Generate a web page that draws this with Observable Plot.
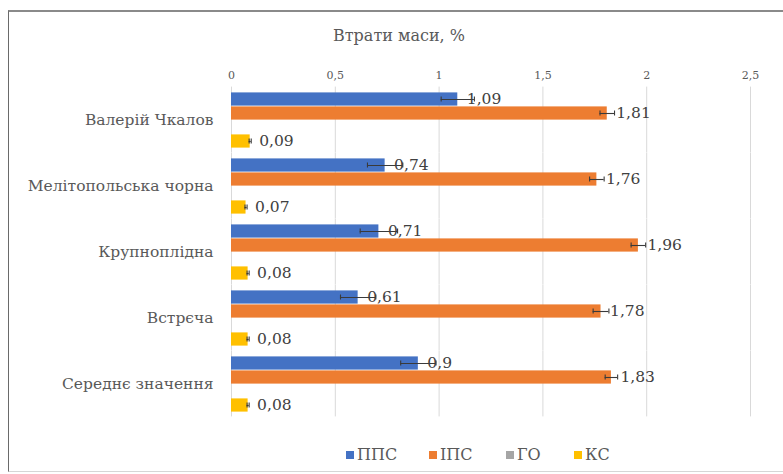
<!DOCTYPE html>
<html>
<head>
<meta charset="utf-8">
<script src="https://cdn.jsdelivr.net/npm/d3@7"></script>
<script src="https://cdn.jsdelivr.net/npm/@observablehq/plot@0.6"></script>
<style>
  html, body { margin: 0; padding: 0; background: #fff; }
  #wrap { position: relative; width: 783px; height: 474px; overflow: hidden; font-family: "DejaVu Serif", serif; }
  #frame { position: absolute; left: 8px; top: 10px; width: 800px; height: 459px;
           border-top: 2px solid #8a8a8a; border-left: 1.5px solid #6a6a6a; border-bottom: 1px solid #d6d6d6; }
  #title { position: absolute; left: 0; width: 798px; top: 26px; text-align: center; font-size: 16px; color: #595959; line-height: 20px; }
  #chart { position: absolute; left: 0; top: 0; }
  #chart svg, #chart svg text { font-family: "DejaVu Serif", serif !important; }
  #legend { position: absolute; top: 445px; left: 0; width: 783px; height: 20px; font-size: 16px; color: #595959; line-height: 20px; }
  .item { position: absolute; top: 0; display: flex; align-items: center; }
  .sw { width: 8px; height: 8px; margin-right: 3px; }
</style>
</head>
<body>
<div id="wrap">
  <div id="frame"></div>
  <div id="chart"></div>
  <div id="title">Втрати маси, %</div>
  <div id="legend"></div>
</div>
<script>
const categories = ["Валерій Чкалов", "Мелітопольська чорна", "Крупноплідна", "Встрєча", "Середнє значення"];
const seriesNames = ["ППС", "ІПС", "ГО", "КС"];
const seriesColors = ["#4472C4", "#ED7D31", "#A5A5A5", "#FFC000"];
const ppsValues = [1.09, 0.74, 0.71, 0.61, 0.9];
const ipsValues = [1.81, 1.76, 1.96, 1.78, 1.83];
const goValues = [0, 0, 0, 0, 0];
const ksValues = [0.09, 0.07, 0.08, 0.08, 0.08];
const ppsErr = [0.08, 0.085, 0.09, 0.085, 0.085];
const ipsErr = [0.035, 0.035, 0.035, 0.038, 0.03];
const goErr = [0, 0, 0, 0, 0];
const ksErr = [0.005, 0.005, 0.005, 0.005, 0.005];
const xTicks = [0, 0.5, 1, 1.5, 2, 2.5];

const valueSets = [ppsValues, ipsValues, goValues, ksValues];
const errSets = [ppsErr, ipsErr, goErr, ksErr];
const rows = [];
categories.forEach((c, i) => {
  seriesNames.forEach((s, j) => {
    rows.push({category: c, series: s, value: valueSets[j][i], err: errSets[j][i]});
  });
});
const shown = rows.filter(d => d.series !== "ГО");
const fmt = v => String(v).replace(".", ",");

const plot = Plot.plot({
  width: 783,
  height: 430,
  marginLeft: 231,
  marginRight: 33,
  marginTop: 86,
  marginBottom: 12,
  style: {background: "transparent"},
  x: {domain: [0, 2.5]},
  y: {domain: seriesNames, padding: 0, axis: null},
  fy: {domain: categories, paddingInner: 0.1, paddingOuter: 0.05},
  color: {domain: seriesNames, range: seriesColors},
  marks: [
    Plot.ruleX(xTicks, {stroke: "#d9d9d9", strokeWidth: 1, insetTop: -3.4, insetBottom: -3.4}),
    Plot.axisX(xTicks, {anchor: "top", tickSize: 0, tickPadding: 12, tickFormat: fmt, fontSize: 11, color: "#595959", label: null}),
    Plot.axisFy({anchor: "left", tickSize: 0, tickPadding: 18, fontSize: 15.5, color: "#595959", label: null}),
    Plot.barX(rows, {x: "value", y: "series", fy: "category", fill: "series", insetTop: 0.4, insetBottom: 0.4}),
    Plot.ruleY(shown, {x1: d => d.value - d.err, x2: d => d.value + d.err, y: "series", fy: "category", stroke: "#3a3a3a", strokeWidth: 1.1}),
    Plot.tickX(shown, {x: d => d.value - d.err, y: "series", fy: "category", stroke: "#3a3a3a", strokeWidth: 1.1, insetTop: 4.5, insetBottom: 4.5}),
    Plot.tickX(shown, {x: d => d.value + d.err, y: "series", fy: "category", stroke: "#3a3a3a", strokeWidth: 1.1, insetTop: 4.5, insetBottom: 4.5}),
    Plot.text(shown, {x: "value", y: "series", fy: "category", text: d => fmt(d.value), textAnchor: "start", dx: 9, fontSize: 15.5, fill: "#404040"})
  ]
});
document.getElementById("chart").appendChild(plot);

const legendLeft = [346, 429, 506, 574];
const legend = document.getElementById("legend");
seriesNames.forEach((s, j) => {
  const it = document.createElement("div");
  it.className = "item";
  it.style.left = legendLeft[j] + "px";
  const sw = document.createElement("div");
  sw.className = "sw";
  sw.style.background = seriesColors[j];
  const tx = document.createElement("span");
  tx.textContent = s;
  it.appendChild(sw);
  it.appendChild(tx);
  legend.appendChild(it);
});
</script>
</body>
</html>
